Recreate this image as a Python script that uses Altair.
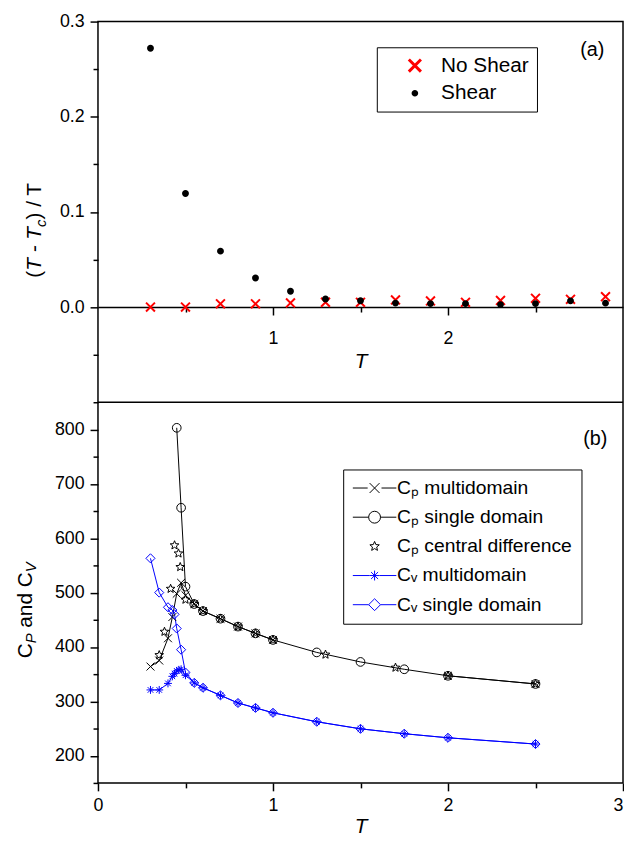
import math
import altair as alt
import pandas as pd

# ---------------- data: panel (a) ----------------
T_a = [0.3, 0.5, 0.7, 0.9, 1.1, 1.3, 1.5, 1.7, 1.9, 2.1, 2.3, 2.5, 2.7, 2.9]
no_shear = [0.0, 0.0, 0.0034, 0.0034, 0.0044, 0.0051, 0.005, 0.0075, 0.0065, 0.005, 0.007, 0.0092, 0.0082, 0.0109]
shear = [0.272, 0.1194, 0.0588, 0.0306, 0.0166, 0.0085, 0.0067, 0.0042, 0.0036, 0.0036, 0.0026, 0.0036, 0.0065, 0.0041]
names_a = ["No Shear", "Shear"]
fill_a = ["transparent", "black"]
stroke_a = ["red", "black"]
ydom_a = [-0.1, 0.3]

# ---------------- data: panel (b) ----------------
T_cp_multi = [0.3, 0.35, 0.4, 0.425, 0.45, 0.475, 0.5, 0.55, 0.6, 0.7, 0.8, 0.9, 1.0, 2.0, 2.5]
cp_multi = [364, 375, 416, 455, 498, 518, 495, 479, 466, 452, 437.5, 425, 413, 347, 332]
T_cp_single = [0.45, 0.475, 0.5, 0.55, 0.6, 0.7, 0.8, 0.9, 1.0, 1.25, 1.5, 1.75, 2.0, 2.5]
cp_single = [803, 656, 511, 479, 466, 452, 437.5, 425, 413, 390, 372.5, 359, 347, 332]
T_cp_cd = [0.35, 0.38, 0.415, 0.4375, 0.46, 0.47, 0.5, 0.55, 0.6, 0.7, 0.8, 0.9, 1.0, 1.3, 1.7, 2.0, 2.5]
cp_cd = [385, 428, 507, 587, 572, 547, 487, 479, 466, 452, 437.5, 425, 413, 386, 362, 347, 332]
T_cv_multi = [0.3, 0.35, 0.4, 0.425, 0.4375, 0.45, 0.4625, 0.475, 0.5, 0.55, 0.6, 0.7, 0.8, 0.9, 1.0,
              1.25, 1.5, 1.75, 2.0, 2.5]
cv_multi = [321, 321, 333, 346, 351, 356, 358, 359, 348, 334, 325, 311, 297, 288, 279,
            262.5, 249.5, 240.5, 233, 221.5]
T_cv_single = [0.3, 0.35, 0.4, 0.425, 0.4375, 0.45, 0.475, 0.5, 0.55, 0.6, 0.7, 0.8, 0.9, 1.0,
               1.25, 1.5, 1.75, 2.0, 2.5]
cv_single = [563, 500, 473, 468, 460, 434, 395, 353, 334, 325, 311, 297, 288, 279,
             262.5, 249.5, 240.5, 233, 221.5]
names_b = ["C\u209a multidomain", "C\u209a single domain", "C\u209a central difference",
           "C\u1d65 multidomain", "C\u1d65 single domain"]
colors_b = ["black", "black", "black", "blue", "blue"]
ydom_b = [150, 850]

FONT = "Liberation Sans"
W, H = 531, 385          # one panel
HT = 2 * H               # both panels stacked in one view


# ---------------- marker glyphs ----------------
def circ(r):
    return f"M{r},0A{r},{r},0,1,1,{-r},0A{r},{r},0,1,1,{r},0Z"


def xmark(h):
    return f"M{-h},{-h}L{h},{h}M{-h},{h}L{h},{-h}"


def diamond(h):
    return f"M0,{-h}L{h},0L0,{h}L{-h},0Z"


def aster(h):
    d = round(h * 0.71, 3)
    return f"M0,{-h}L0,{h}M{-h},0L{h},0M{-d},{-d}L{d},{d}M{-d},{d}L{d},{-d}"


def star(R, r):
    pts = []
    for i in range(10):
        ang = -math.pi / 2 + i * math.pi / 5
        rad = R if i % 2 == 0 else r
        pts.append(f"{rad * math.cos(ang):.3f},{rad * math.sin(ang):.3f}")
    return "M" + "L".join(pts) + "Z"


def leg_line(gap, L=4.4):
    return f"M{-L},0L{-gap},0M{gap},0L{L},0"


paths_a = [xmark(1.0), circ(0.55)]
leg_paths_a = [xmark(1.0), circ(0.3)]
paths_b = [xmark(1.0), circ(1.1), star(1.15, 0.5), aster(1.0), diamond(1.15)]
leg_paths_b = [
    leg_line(1.4) + xmark(1.0),
    leg_line(1.2) + circ(1.2),
    star(1.0, 0.45),
    leg_line(1.0) + aster(1.0),
    leg_line(1.2) + diamond(1.2),
]


def txt(text, x, y, size=21, style="normal", angle=270, align="left", baseline="alphabetic"):
    return alt.Chart(pd.DataFrame({"t": [text]})).mark_text(
        font=FONT, fontSize=size, fontStyle=style, angle=angle, align=align,
        baseline=baseline, color="black"
    ).encode(text="t:N", x=alt.value(x), y=alt.value(y))


xs = alt.Scale(domain=[0, 3], nice=False, zero=False)
ys_a = alt.Scale(domain=ydom_a, range=[H, 0], nice=False, zero=False)
ys_b = alt.Scale(domain=ydom_b, range=[HT, H], nice=False, zero=False)
off_a = -(HT - 0.75 * H)   # x axis of panel (a) sits at its y = 0

# ---------------- panel (a) ----------------
df_a = pd.DataFrame({
    "T": T_a + T_a,
    "val": no_shear + shear,
    "series_a": [names_a[0]] * len(T_a) + [names_a[1]] * len(T_a),
    "fcol": [fill_a[0]] * len(T_a) + [fill_a[1]] * len(T_a),
    "scol": [stroke_a[0]] * len(T_a) + [stroke_a[1]] * len(T_a),
})
df_a_leg = df_a.groupby("series_a", as_index=False).first()

minor_a = alt.Chart(df_a).mark_point(opacity=0, size=1).encode(
    x=alt.X("T:Q", scale=xs, axis=alt.Axis(
        values=[0.5, 1.5, 2.5], orient="bottom", offset=off_a, domain=False, tickSize=5,
        labels=False, title=None)),
    y=alt.Y("val:Q", scale=ys_a, axis=alt.Axis(
        values=[-0.05, 0.05, 0.15, 0.25], orient="left", domain=False, tickSize=5,
        labels=False, title=None)),
)

divider = alt.Chart(pd.DataFrame({"val": [ydom_a[0]]})).mark_rule(
    color="black", strokeWidth=1.5).encode(y=alt.Y("val:Q", scale=ys_a, axis=None))

pts_a = alt.Chart(df_a).mark_point(opacity=1, strokeWidth=2, size=81).encode(
    x=alt.X("T:Q", scale=xs, axis=alt.Axis(
        values=[1, 2], orient="bottom", offset=off_a, domain=True, domainColor="black",
        domainWidth=1.5, tickSize=8, labelPadding=15, format="d", labelFlush=False,
        title="T", titleFontStyle="italic", titleFontSize=21, titlePadding=3)),
    y=alt.Y("val:Q", scale=ys_a, axis=alt.Axis(
        values=[0, 0.1, 0.2, 0.3], orient="left", tickSize=8, labelPadding=6, title=None,
        labelOverlap=False, format=".1f")),
    shape=alt.Shape("series_a:N", scale=alt.Scale(domain=names_a, range=paths_a), legend=None),
    fill=alt.Fill("fcol:N", scale=None, legend=None),
    stroke=alt.Stroke("scol:N", scale=None, legend=None),
)

leg_a = alt.Legend(
    title=None, orient="none", legendX=282, legendY=26, padding=8,
    rowPadding=4, symbolOffset=20, labelOffset=16, labelFontSize=21,
    labelFont=FONT, labelColor="black", strokeColor="black",
    fillColor="white", cornerRadius=0, symbolSize=150,
    symbolOpacity=1, symbolStrokeWidth=3)

carrier_a = alt.Chart(df_a_leg).mark_point(opacity=0, size=1).encode(
    x=alt.X("T:Q", scale=xs, axis=None),
    y=alt.Y("val:Q", scale=ys_a, axis=None),
    shape=alt.Shape("series_a:N", scale=alt.Scale(domain=names_a, range=leg_paths_a), legend=leg_a),
    fill=alt.Fill("series_a:N", scale=alt.Scale(domain=names_a, range=fill_a), legend=leg_a),
    stroke=alt.Stroke("series_a:N", scale=alt.Scale(domain=names_a, range=stroke_a), legend=leg_a),
)

texts_a = [
    txt("(", -58, 259),
    txt("T - T", -58, 252.0, style="italic"),
    txt("c", -53, 207.7, size=15, style="italic"),
    txt(") / T", -58, 200.2),
    txt("(a)", 500, 29, size=20, angle=0, align="center", baseline="middle"),
]

# ---------------- panel (b) ----------------
line_rows = []
for t, v in zip(T_cp_multi, cp_multi):
    line_rows.append({"T": t, "val": v, "grp": "cpm1" if t <= 1.0 else "cpm2", "lcolor": "black"})
for t, v in zip(T_cp_single, cp_single):
    line_rows.append({"T": t, "val": v, "grp": "cps", "lcolor": "black"})
for t, v in zip(T_cv_multi, cv_multi):
    line_rows.append({"T": t, "val": v, "grp": "cvm", "lcolor": "blue"})
for t, v in zip(T_cv_single, cv_single):
    line_rows.append({"T": t, "val": v, "grp": "cvs", "lcolor": "blue"})
df_lines = pd.DataFrame(line_rows)

pt_rows = []
series_src = [(1, T_cp_single, cp_single), (0, T_cp_multi, cp_multi), (2, T_cp_cd, cp_cd),
              (4, T_cv_single, cv_single), (3, T_cv_multi, cv_multi)]
for k, ts, vs in series_src:
    for t, v in zip(ts, vs):
        pt_rows.append({"T": t, "val": v, "series_b": names_b[k], "pcolor": colors_b[k]})
df_pts = pd.DataFrame(pt_rows)
df_leg = df_pts.groupby("series_b", as_index=False).first()

lines_b = alt.Chart(df_lines).mark_line(strokeWidth=1).encode(
    x=alt.X("T:Q", scale=xs, axis=alt.Axis(
        values=[0.5, 1.5, 2.5], orient="bottom", domain=False, tickSize=5, labels=False, title=None)),
    y=alt.Y("val:Q", scale=ys_b, axis=alt.Axis(
        values=[150, 250, 350, 450, 550, 650, 750, 850], orient="left", domain=False,
        tickSize=5, labels=False, title=None)),
    detail="grp:N",
    color=alt.Color("lcolor:N", scale=None, legend=None),
)

pts_b = alt.Chart(df_pts).mark_point(opacity=1, strokeWidth=1, size=64, filled=False).encode(
    x=alt.X("T:Q", scale=xs, axis=alt.Axis(
        values=[0, 1, 2, 3], orient="bottom", tickSize=8, labelPadding=6, format="d",
        labelFlush=False,
        labelAlign={"condition": {"test": "datum.value >= 3", "value": "right"}, "value": "center"},
        title="T", titleFontStyle="italic", titleFontSize=21, titlePadding=1)),
    y=alt.Y("val:Q", scale=ys_b, axis=alt.Axis(
        values=[200, 300, 400, 500, 600, 700, 800], orient="left", tickSize=8, labelPadding=6,
        title=None, labelOverlap=False)),
    shape=alt.Shape("series_b:N", scale=alt.Scale(domain=names_b, range=paths_b), legend=None),
    color=alt.Color("pcolor:N", scale=None, legend=None),
)

leg_b = alt.Legend(
    title=None, orient="none", legendX=248, legendY=H + 68, padding=9,
    rowPadding=8.5, symbolOffset=13, labelOffset=13, labelFontSize=19.5, labelLimit=400,
    labelFont=FONT, labelColor="black", strokeColor="black",
    fillColor="white", cornerRadius=0, symbolSize=100,
    symbolOpacity=1, symbolStrokeWidth=1)

carrier_b = alt.Chart(df_leg).mark_point(opacity=0, strokeWidth=1, size=1, filled=False).encode(
    x=alt.X("T:Q", scale=xs, axis=None),
    y=alt.Y("val:Q", scale=ys_b, axis=None),
    shape=alt.Shape("series_b:N", scale=alt.Scale(domain=names_b, range=leg_paths_b), legend=leg_b),
    color=alt.Color("series_b:N", scale=alt.Scale(domain=names_b, range=colors_b), legend=leg_b),
)

texts_b = [
    txt("C", -67, H + 259),
    txt("P", -62.5, H + 243.8, size=15, style="italic"),
    txt("and", -67, H + 228.0),
    txt("C", -67, H + 187.2),
    txt("V", -62.5, H + 172.0, size=15, style="italic"),
    txt("(b)", 503, H + 37, size=20, angle=0, align="center", baseline="middle"),
]

chart = alt.layer(
    minor_a, divider, pts_a, carrier_a, lines_b, pts_b, carrier_b, *texts_a, *texts_b
).resolve_scale(
    y="independent", shape="independent", color="independent", fill="independent",
    stroke="independent"
).resolve_axis(x="independent", y="independent").properties(
    width=W, height=HT, padding={"left": 7, "top": 0, "right": 0, "bottom": 0}
).configure(font=FONT).configure_view(stroke="black", strokeWidth=1.5).configure_axis(
    labelFont=FONT, labelFontSize=18, labelColor="black", tickColor="black", tickWidth=1.5,
    domain=False, grid=False, titleFont=FONT, titleColor="black", titleFontWeight="normal"
)

chart.save("out.html", embed_options={"renderer": "svg", "actions": False})
